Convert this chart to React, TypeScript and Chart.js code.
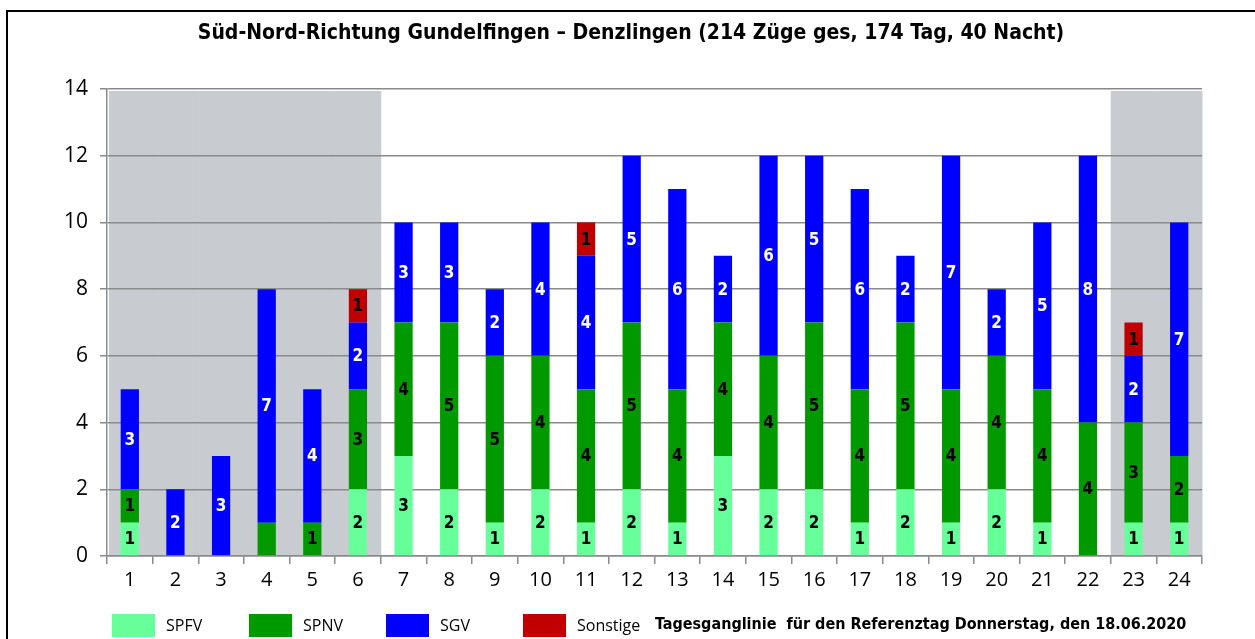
import React, { useEffect, useRef } from "react";
import { Chart, registerables } from "chart.js";

Chart.register(...registerables);

const titleText = "Süd-Nord-Richtung Gundelfingen – Denzlingen (214 Züge ges, 174 Tag, 40 Nacht)";
const footText = "Tagesganglinie  für den Referenztag Donnerstag, den 18.06.2020";

const hours = ["1","2","3","4","5","6","7","8","9","10","11","12","13","14","15","16","17","18","19","20","21","22","23","24"];
const spfv = [1,0,0,0,0,2,3,2,1,2,1,2,1,3,2,2,1,2,1,2,1,0,1,1];
const spnv = [1,0,0,1,1,3,4,5,5,4,4,5,4,4,4,5,4,5,4,4,4,4,3,2];
const sgv = [3,2,3,7,4,2,3,3,2,4,4,5,6,2,6,5,6,2,7,2,5,8,2,7];
const sonstige = [0,0,0,0,0,1,0,0,0,0,1,0,0,0,0,0,0,0,0,0,0,0,1,0];
const nightHours = ["1","2","3","4","5","6","23","24"];
// segments whose value is not printed in the original (dataset index, hour index)
const unlabeled = [[1, 3]];

const yMax = 14;
const yStep = 2;

const seriesNames = ["SPFV", "SPNV", "SGV", "Sonstige"];
const seriesColors = ["#66ff99", "#009900", "#0000ff", "#c00000"];
const labelColors = ["#000000", "#000000", "#ffffff", "#000000"];

const FONT = "'Open Sans', 'DejaVu Sans', sans-serif";
const NARROW = "'Liberation Sans Narrow', 'DejaVu Sans Condensed', 'Open Sans', sans-serif";

const decorPlugin = {
  id: "decor",
  beforeDraw(chart: any) {
    const { ctx, chartArea } = chart;
    const x = chart.scales.x;
    const y = chart.scales.y;
    const w = x.width / hours.length;
    ctx.save();
    ctx.fillStyle = "#c8cbd0";
    const top = y.getPixelForValue(yMax) + 2;
    nightHours.forEach((h) => {
      const idx = hours.indexOf(h);
      const cx = x.getPixelForValue(idx);
      let l = cx - w / 2;
      let r = cx + w / 2;
      if (idx === 0) l += 2;
      ctx.fillRect(l, top, r - l + 0.5, chartArea.bottom - top);
    });
    // frame
    ctx.fillStyle = "#000";
    ctx.fillRect(6, 10, 1255, 2);
    ctx.fillRect(6, 10, 2, 639);
    ctx.restore();
  },
  afterDatasetsDraw(chart: any) {
    const { ctx } = chart;
    ctx.save();
    ctx.font = `bold 17px ${NARROW}`;
    ctx.textAlign = "center";
    ctx.textBaseline = "middle";
    chart.data.datasets.forEach((ds: any, di: number) => {
      const meta = chart.getDatasetMeta(di);
      meta.data.forEach((bar: any, j: number) => {
        const v = ds.data[j];
        if (!v) return;
        if (unlabeled.some(([a, b]) => a === di && b === j)) return;
        const p = bar.getProps(["x", "y", "base"], true);
        ctx.fillStyle = labelColors[di];
        ctx.fillText(String(v), p.x, (p.y + p.base) / 2 + 1);
      });
    });
    ctx.restore();
  },
  afterDraw(chart: any) {
    const { ctx } = chart;
    ctx.save();
    // title
    ctx.font = `bold 21px ${NARROW}`;
    ctx.fillStyle = "#000";
    ctx.textAlign = "center";
    ctx.textBaseline = "middle";
    ctx.fillText(titleText, 631, 34);
    // legend
    ctx.textAlign = "left";
    ctx.font = `16px ${FONT}`;
    seriesNames.forEach((name, i) => {
      const bx = 112 + i * 137;
      ctx.fillStyle = seriesColors[i];
      ctx.fillRect(bx, 614, 43, 23);
      ctx.fillStyle = "#000";
      ctx.fillText(name, bx + 54, 626);
    });
    ctx.font = `bold 16px ${NARROW}`;
    ctx.fillText(footText, 655, 625);
    ctx.restore();
  },
};

export default function App() {
  const ref = useRef<HTMLCanvasElement | null>(null);
  useEffect(() => {
    if (!ref.current) return;
    const chart = new Chart(ref.current, {
      type: "bar",
      data: {
        labels: hours,
        datasets: [spfv, spnv, sgv, sonstige].map((d, i) => ({
          label: seriesNames[i],
          data: d,
          backgroundColor: seriesColors[i],
          borderWidth: 0,
          barPercentage: 0.4,
          categoryPercentage: 1,
        })),
      },
      options: {
        responsive: false,
        animation: false,
        layout: { padding: { left: 0, right: 53, top: 89, bottom: 43 } },
        plugins: {
          legend: { display: false },
          title: { display: false },
          tooltip: { enabled: false },
        },
        scales: {
          x: {
            stacked: true,
            afterFit: (s: any) => { s.height = 40; },
            grid: {
              offset: true,
              drawOnChartArea: false,
              drawTicks: true,
              tickLength: 8,
              color: "#8a8a8a",
              lineWidth: 1.5,
            },
            border: { color: "#8a8a8a", width: 1.5 },
            ticks: {
              color: "#000",
              font: { size: 20, family: FONT },
              padding: 4,
              maxRotation: 0,
            },
          },
          y: {
            stacked: true,
            min: 0,
            max: yMax,
            afterFit: (s: any) => { s.width = 107; },
            grid: {
              color: "#8a8a8a",
              lineWidth: 1.5,
              tickLength: 7,
            },
            border: { color: "#8a8a8a", width: 1.5 },
            ticks: {
              stepSize: yStep,
              color: "#000",
              font: { size: 21, family: FONT },
              padding: 12,
            },
          },
        },
      },
      plugins: [decorPlugin],
    });
    return () => chart.destroy();
  }, []);
  return (
    <div style={{ position: "absolute", left: 0, top: 0, width: 1255, height: 639, background: "#fff" }}>
      <canvas ref={ref} width={1255} height={639} />
    </div>
  );
}
